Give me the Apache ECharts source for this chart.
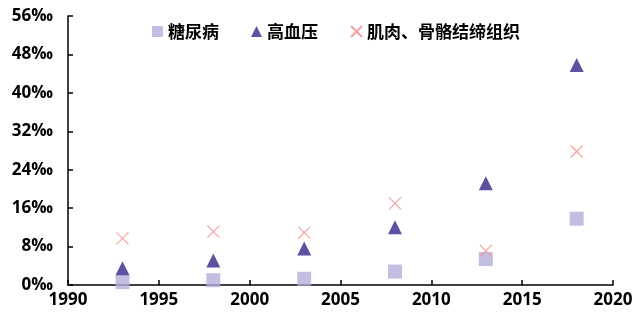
<!DOCTYPE html>
<html>
<head>
<meta charset="utf-8">
<script src="https://cdn.jsdelivr.net/npm/echarts@6/dist/echarts.min.js"></script>
<style>
  html, body { margin: 0; padding: 0; background: #fff; }
  #chart { width: 636px; height: 322px; }
</style>
</head>
<body>
<div id="chart"></div>
<script>
// 年份
var years = [1993, 1998, 2003, 2008, 2013, 2018];
// 患病率（‰）
var diabetes = [0.6, 1.0, 1.3, 2.8, 5.4, 13.8];
var hypertension = [3.5, 5.1, 7.6, 12.0, 21.2, 45.8];
var muscle = [9.7, 11.1, 10.9, 17.0, 7.1, 27.8];
var seriesNames = ["糖尿病", "高血压", "肌肉、骨骼结缔组织"];

function pairs(vals) {
  return years.map(function (y, i) { return [y, vals[i]]; });
}

var axisFont = {
  color: "#000",
  fontSize: 17,
  fontWeight: "bold",
  fontFamily: "Open Sans"
};

var myChart = echarts.init(document.getElementById("chart"));
myChart.setOption({
  animation: false,
  grid: { left: 68, right: 23, top: 16, bottom: 37 },
  legend: {
    top: 18,
    left: 147,
    itemGap: 32,
    itemWidth: 11,
    itemHeight: 11,
    textStyle: { color: "#000", fontSize: 17, fontWeight: "bold", fontFamily: "Noto Sans CJK SC" },
    data: seriesNames
  },
  xAxis: {
    type: "value",
    min: 1990,
    max: 2020,
    interval: 5,
    axisLine: { lineStyle: { color: "#000", width: 1.5 } },
    axisTick: { inside: true, length: 5, lineStyle: { color: "#000", width: 1.5 } },
    axisLabel: Object.assign({
      margin: 7,
      formatter: function (v) { return String(v); }
    }, axisFont),
    splitLine: { show: false }
  },
  yAxis: {
    type: "value",
    min: 0,
    max: 56,
    interval: 8,
    axisLine: { show: true, lineStyle: { color: "#000", width: 1.5 } },
    axisTick: { show: true, inside: true, length: 5, lineStyle: { color: "#000", width: 1.5 } },
    axisLabel: Object.assign({
      margin: 15,
      formatter: function (v) { return v + "‰"; }
    }, axisFont),
    splitLine: { show: false }
  },
  series: [
    {
      name: seriesNames[0],
      type: "scatter",
      symbol: "rect",
      symbolSize: 14,
      itemStyle: { color: "#b4afdb" },
      data: pairs(diabetes)
    },
    {
      name: seriesNames[1],
      type: "scatter",
      symbol: "triangle",
      symbolSize: 14,
      itemStyle: { color: "#33278a" },
      data: pairs(hypertension)
    },
    {
      name: seriesNames[2],
      type: "scatter",
      symbol: "path://M0,0L10,10M10,0L0,10",
      symbolSize: 12,
      itemStyle: { color: "transparent", borderColor: "#f28b8b", borderWidth: 1.2 },
      data: pairs(muscle)
    }
  ]
});
</script>
</body>
</html>
